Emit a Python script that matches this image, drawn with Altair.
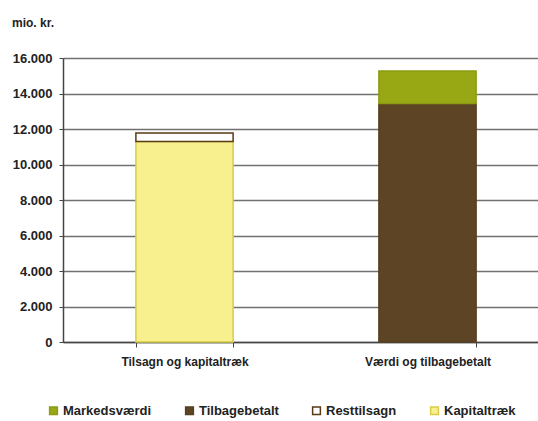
import altair as alt
import pandas as pd

categories = ["Tilsagn og kapitaltræk", "Tilsagn og kapitaltræk",
              "Værdi og tilbagebetalt", "Værdi og tilbagebetalt"]
series = ["Kapitaltræk", "Resttilsagn", "Tilbagebetalt", "Markedsværdi"]
values = [11300, 470, 13440, 1830]
stack_pos = [0, 1, 0, 1]

legend_order = ["Markedsværdi", "Tilbagebetalt", "Resttilsagn", "Kapitaltræk"]
fill_colors = ["#98a815", "#5c4425", "#ffffff", "#f8f08e"]
stroke_colors = ["#8c9c12", "#56401f", "#5a3a14", "#d8cd45"]
y_ticks = [0, 2000, 4000, 6000, 8000, 10000, 12000, 14000, 16000]

df = pd.DataFrame({"kategori": categories, "serie": series,
                   "vaerdi": values, "pos": stack_pos})

FONT = "Liberation Sans"

legend_props = dict(
    title=None, orient="none", direction="horizontal",
    legendX=-16, legendY=346, symbolType="square", symbolSize=60,
    symbolStrokeWidth=1.5, labelFontSize=13, labelFontWeight="bold",
    labelFont=FONT, labelColor="#222222", columnPadding=30, labelOffset=3,
)

chart = alt.Chart(df).mark_bar(strokeWidth=1.5).encode(
    x=alt.X("kategori:N", sort=["Tilsagn og kapitaltræk", "Værdi og tilbagebetalt"],
            scale=alt.Scale(range=[0, 486], paddingInner=0.6, paddingOuter=0.3),
            axis=alt.Axis(title=None, labelAngle=0, labelFontSize=12,
                          labelFontWeight="bold", labelFont=FONT,
                          labelColor="#222222", labelPadding=9,
                          domainColor="#444444", domainWidth=1.5,
                          tickBand="extent", tickSize=5, tickColor="#444444")),
    y=alt.Y("vaerdi:Q", stack="zero",
            scale=alt.Scale(domain=[0, 16000], nice=False),
            axis=alt.Axis(title=None, values=y_ticks,
                          labelExpr="replace(format(datum.value, ',d'), ',', '.')",
                          labelFontSize=13, labelFontWeight="bold", labelFont=FONT,
                          labelColor="#222222", labelPadding=7, tickSize=4,
                          tickColor="#444444", domainColor="#444444",
                          domainWidth=1.5, gridColor="#707070", gridWidth=1.4)),
    color=alt.Color("serie:N", scale=alt.Scale(domain=legend_order, range=fill_colors),
                    legend=alt.Legend(**legend_props)),
    stroke=alt.Stroke("serie:N", scale=alt.Scale(domain=legend_order, range=stroke_colors),
                      legend=alt.Legend(**legend_props)),
    order=alt.Order("pos:Q"),
).properties(
    width=475, height=284,
    title=alt.TitleParams("mio. kr.", anchor="start", frame="group", dx=-51,
                          offset=13, baseline="alphabetic", fontSize=12,
                          fontWeight="bold", font=FONT, color="#222222"),
    autosize=alt.AutoSizeParams(type="none"),
    padding={"left": 63, "top": 58, "right": 0, "bottom": 79},
).configure_view(stroke=None).configure(background="white")

chart.save("out.html", embed_options={"renderer": "svg", "actions": False})
